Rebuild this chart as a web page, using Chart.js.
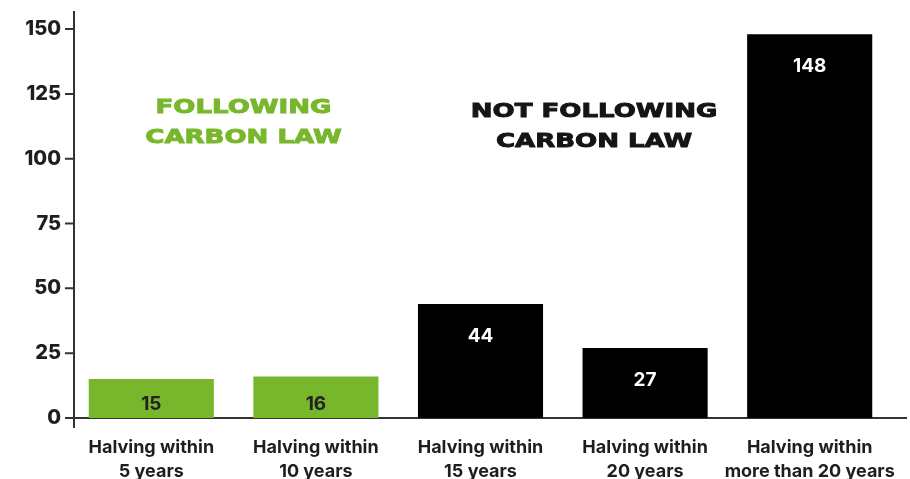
<!DOCTYPE html>
<html lang="en">
<head>
    <meta charset="UTF-8">
    <title>Carbon law</title>
    <script src="https://cdn.jsdelivr.net/npm/chart.js"></script>
    <style>
        body { margin: 0; background: #fff; }
        .box { width: 910px; height: 479px; position: relative; }
    </style>
</head>
<body>
    <div class="box"><canvas id="myChart"></canvas></div>

<script>
    // dados do grafico
    const categorias = [
        ['Halving within', '5 years'],
        ['Halving within', '10 years'],
        ['Halving within', '15 years'],
        ['Halving within', '20 years'],
        ['Halving within', 'more than 20 years']
    ];
    const valores = [15, 16, 44, 27, 148];
    const seguindo = [true, true, false, false, false];
    const ticksY = [0, 25, 50, 75, 100, 125, 150];

    // textos de destaque
    const destaques = [
        { linhas: ['FOLLOWING', 'CARBON LAW'], x: 0.56, y: 119.5, cor: '#78b72b' },
        { linhas: ['NOT FOLLOWING', 'CARBON LAW'], x: 2.69, y: 118, cor: '#151515' }
    ];

    const verde = '#78b72b';
    const preto = '#000000';
    const fonte = 'Inter, "Open Sans", sans-serif';

    const eixos = {
        id: 'eixos',
        beforeDatasetsDraw(chart) {
            const ctx = chart.ctx;
            const y = chart.scales.y;
            const x0 = 74;
            const base = y.getPixelForValue(0);
            ctx.save();
            ctx.strokeStyle = '#333';
            ctx.lineWidth = 2;
            ctx.beginPath();
            ctx.moveTo(x0, y.getPixelForValue(150) - 18);
            ctx.lineTo(x0, base + 10);
            ctx.moveTo(65, base);
            ctx.lineTo(907, base);
            ticksY.forEach(v => {
                const py = y.getPixelForValue(v);
                ctx.moveTo(65, py);
                ctx.lineTo(x0, py);
            });
            ctx.stroke();
            ctx.restore();
        },
        afterDatasetsDraw(chart) {
            const ctx = chart.ctx;
            const meta = chart.getDatasetMeta(0);
            ctx.save();
            ctx.textAlign = 'center';
            ctx.textBaseline = 'middle';
            ctx.font = '700 19px ' + fonte;
            meta.data.forEach((bar, i) => {
                const h = bar.base - bar.y;
                const off = Math.min(32, h - 14);
                ctx.fillStyle = seguindo[i] ? '#222' : '#fff';
                ctx.fillText(String(valores[i]), bar.x, bar.y + off);
            });
            // destaques
            ctx.font = '900 19px "DejaVu Sans", sans-serif';
            ctx.lineWidth = 0.9;
            destaques.forEach(d => {
                const px = chart.scales.x.getPixelForValue(d.x);
                const py = chart.scales.y.getPixelForValue(d.y);
                ctx.fillStyle = d.cor;
                ctx.strokeStyle = d.cor;
                d.linhas.forEach((l, k) => {
                    ctx.save();
                    ctx.translate(px, py + k * 30);
                    ctx.scale(1.37, 1.05);
                    ctx.fillText(l, 0, 0);
                    ctx.strokeText(l, 0, 0);
                    ctx.restore();
                });
            });
            ctx.restore();
        }
    };

    const chartData = {
        labels: categorias,
        datasets: [{
            data: valores,
            backgroundColor: seguindo.map(s => s ? verde : preto),
            borderWidth: 0,
            categoryPercentage: 1,
            barPercentage: 0.76
        }]
    };

    const options = {
        responsive: true,
        maintainAspectRatio: false,
        animation: false,
        layout: { padding: { top: 0, right: 18, left: 0, bottom: 0 } },
        plugins: { legend: { display: false }, tooltip: { enabled: false } },
        scales: {
            x: {
                grid: { display: false, drawTicks: false },
                border: { display: false },
                ticks: {
                    color: '#1e1e1e',
                    padding: 18,
                    maxRotation: 0,
                    autoSkip: false,
                    font: { family: fonte, size: 18, weight: '700', lineHeight: 1.33 }
                },
                afterFit(s) { s.height = 61; s.paddingLeft = 0; s.paddingRight = 0; }
            },
            y: {
                min: 0,
                max: 153.5,
                grid: { display: false, drawTicks: false },
                border: { display: false },
                afterBuildTicks(s) { s.ticks = ticksY.map(v => ({ value: v })); },
                ticks: {
                    color: '#1e1e1e',
                    padding: 8,
                    font: { family: fonte, size: 20, weight: '800' }
                },
                afterFit(s) { s.width = 69; }
            }
        }
    };

    new Chart(document.getElementById('myChart'), {
        type: 'bar',
        data: chartData,
        options: options,
        plugins: [eixos]
    });
</script>
</body>
</html>
